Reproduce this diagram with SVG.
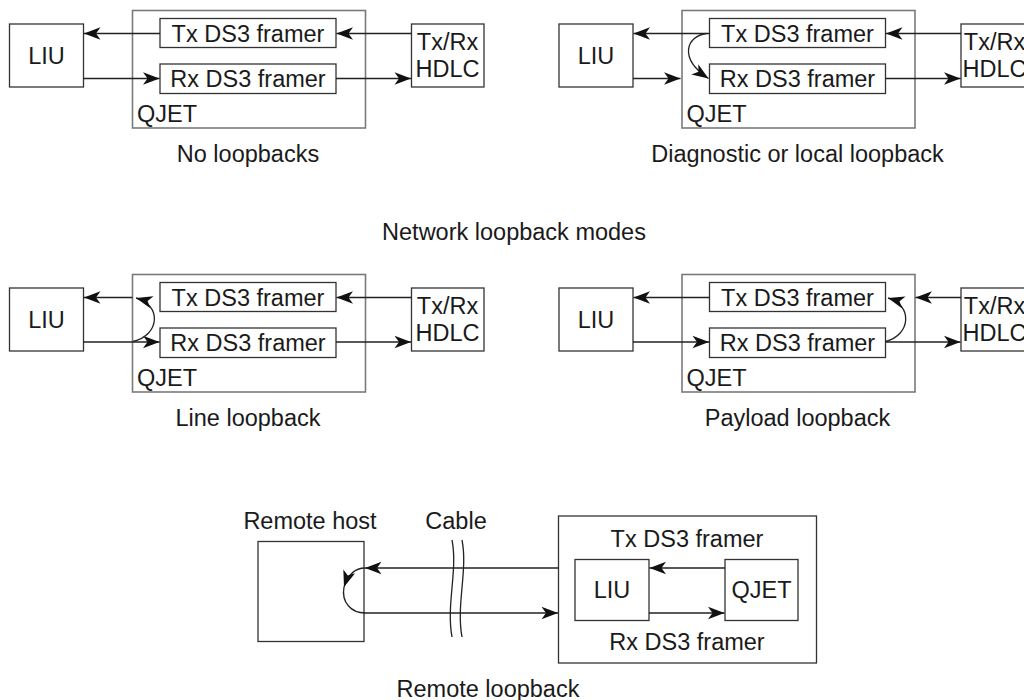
<svg xmlns="http://www.w3.org/2000/svg" width="1024" height="700" viewBox="0 0 1024 700">
<style>
.box{fill:#fff;stroke:#333;stroke-width:1.3}
.qjet{fill:none;stroke:#7a7a7a;stroke-width:1.6}
.t{font-family:"Liberation Sans",Arial,sans-serif;font-size:23.5px;fill:#1a1a1a}
.c{text-anchor:middle}
.ln{fill:none;stroke:#222;stroke-width:1.3}
.a{marker-end:url(#ah)}
</style>
<defs>
<marker id="ah" viewBox="-18 -8 19 16" refX="0" refY="0" markerWidth="19" markerHeight="16" markerUnits="userSpaceOnUse" orient="auto"><path d="M0,0 L-16.5,-6.2 L-12,0 L-16.5,6.2 Z" fill="#111"/></marker>
</defs>
<rect width="1024" height="700" fill="#fff"/>

<!-- Panel 1: No loopbacks -->
<g id="p1" transform="translate(0,0)">
<g id="p1-qjet"><rect class="qjet" x="132.5" y="10.5" width="233" height="117.5"/><text class="t" x="137" y="121.5">QJET</text></g>
<g id="p1-liu"><rect class="box" x="9.5" y="24" width="74" height="63"/><text class="t c" x="46.5" y="63.5">LIU</text></g>
<g id="p1-tx"><rect class="box" x="160" y="18.5" width="176" height="29"/><text class="t c" x="248" y="41.5">Tx DS3 framer</text></g>
<g id="p1-rx"><rect class="box" x="160" y="64" width="176" height="29.5"/><text class="t c" x="248" y="87">Rx DS3 framer</text></g>
<g id="p1-hdlc"><rect class="box" x="411.5" y="24" width="72.5" height="63"/><text class="t c" x="447.5" y="50">Tx/Rx</text><text class="t c" x="447.5" y="77">HDLC</text></g>
<text class="t c" x="248" y="162">No loopbacks</text>
</g>

<!-- Panel 2: Diagnostic or local loopback -->
<g id="p2" transform="translate(549.5,0)">
<g id="p2-qjet"><rect class="qjet" x="132.5" y="10.5" width="233" height="117.5"/><text class="t" x="137" y="121.5">QJET</text></g>
<g id="p2-liu"><rect class="box" x="9.5" y="24" width="74" height="63"/><text class="t c" x="46.5" y="63.5">LIU</text></g>
<g id="p2-tx"><rect class="box" x="160" y="18.5" width="176" height="29"/><text class="t c" x="248" y="41.5">Tx DS3 framer</text></g>
<g id="p2-rx"><rect class="box" x="160" y="64" width="176" height="29.5"/><text class="t c" x="248" y="87">Rx DS3 framer</text></g>
<g id="p2-hdlc"><rect class="box" x="411.5" y="24" width="72.5" height="63"/><text class="t c" x="445" y="50">Tx/Rx</text><text class="t c" x="445" y="77">HDLC</text></g>
<text class="t c" x="248" y="162">Diagnostic or local loopback</text>
</g>

<text class="t c" x="514" y="240">Network loopback modes</text>

<!-- Panel 3: Line loopback -->
<g id="p3" transform="translate(0,264)">
<g id="p3-qjet"><rect class="qjet" x="132.5" y="10.5" width="233" height="117.5"/><text class="t" x="137" y="121.5">QJET</text></g>
<g id="p3-liu"><rect class="box" x="9.5" y="24" width="74" height="63"/><text class="t c" x="46.5" y="63.5">LIU</text></g>
<g id="p3-tx"><rect class="box" x="160" y="18.5" width="176" height="29"/><text class="t c" x="248" y="41.5">Tx DS3 framer</text></g>
<g id="p3-rx"><rect class="box" x="160" y="64" width="176" height="29.5"/><text class="t c" x="248" y="87">Rx DS3 framer</text></g>
<g id="p3-hdlc"><rect class="box" x="411.5" y="24" width="72.5" height="63"/><text class="t c" x="447.5" y="50">Tx/Rx</text><text class="t c" x="447.5" y="77">HDLC</text></g>
<text class="t c" x="248" y="162">Line loopback</text>
</g>

<!-- Panel 4: Payload loopback -->
<g id="p4" transform="translate(549.5,264)">
<g id="p4-qjet"><rect class="qjet" x="132.5" y="10.5" width="233" height="117.5"/><text class="t" x="137" y="121.5">QJET</text></g>
<g id="p4-liu"><rect class="box" x="9.5" y="24" width="74" height="63"/><text class="t c" x="46.5" y="63.5">LIU</text></g>
<g id="p4-tx"><rect class="box" x="160" y="18.5" width="176" height="29"/><text class="t c" x="248" y="41.5">Tx DS3 framer</text></g>
<g id="p4-rx"><rect class="box" x="160" y="64" width="176" height="29.5"/><text class="t c" x="248" y="87">Rx DS3 framer</text></g>
<g id="p4-hdlc"><rect class="box" x="411.5" y="24" width="72.5" height="63"/><text class="t c" x="445" y="50">Tx/Rx</text><text class="t c" x="445" y="77">HDLC</text></g>
<text class="t c" x="248" y="162">Payload loopback</text>
</g>

<!-- Remote loopback -->
<g id="remote-host"><rect class="box" x="258" y="541.5" width="106" height="100"/><text class="t c" x="310" y="529">Remote host</text></g>
<g id="cable"><text class="t c" x="456" y="529">Cable</text>
<path class="ln" d="M452,540 C458,570 446,605 452,637"/><path class="ln" d="M462,540 C468,570 456,605 462,637"/></g>
<g id="remote-unit"><rect class="box" x="558.5" y="516" width="258" height="147"/><text class="t c" x="687" y="547">Tx DS3 framer</text><text class="t c" x="687" y="650">Rx DS3 framer</text></g>
<g id="r-liu"><rect class="box" x="575" y="559.5" width="74" height="61"/><text class="t c" x="612" y="598">LIU</text></g>
<g id="r-qjet"><rect class="box" x="725" y="559.5" width="73" height="61"/><text class="t c" x="761.5" y="598">QJET</text></g>
<text class="t c" x="488" y="697">Remote loopback</text>

<g id="connectors">
<g transform="translate(0,0)">
<path class="ln a" d="M160,33.5 L84,33.5"/>
<path class="ln a" d="M411.5,33.5 L336.5,33.5"/>
<path class="ln a" d="M83.5,78.5 L159.5,78.5"/>
<path class="ln a" d="M336,78.5 L411,78.5"/>
</g>
<g transform="translate(549.5,0)">
<path class="ln a" d="M160,33.5 L84,33.5"/>
<path class="ln a" d="M411.5,33.5 L336.5,33.5"/>
<path class="ln a" d="M83.5,78.5 L131,78.5"/>
<path class="ln a" d="M336,78.5 L411,78.5"/>
<path class="ln a" d="M157,33.5 C137,36 128.5,58 159,78.5"/>
</g>
<g transform="translate(0,264)">
<path class="ln a" d="M132.5,33.5 L84,33.5"/>
<path class="ln a" d="M411.5,33.5 L336.5,33.5"/>
<path class="ln a" d="M83.5,78 L159.5,78"/>
<path class="ln a" d="M336,78 L411,78"/>
<path class="ln a" d="M133,77.5 C160,71 162,41 136,34"/>
</g>
<g transform="translate(549.5,264)">
<path class="ln a" d="M160,33.5 L84,33.5"/>
<path class="ln a" d="M411.5,33.5 L366,33.5"/>
<path class="ln a" d="M83.5,78 L159.5,78"/>
<path class="ln a" d="M336,78 L411,78"/>
<path class="ln a" d="M336,77.5 C361.5,71 363.5,41 338.5,34"/>
</g>
<path class="ln a" d="M558.5,568 L365,568"/>
<path class="ln a" d="M364,613 L558,613"/>
<path class="ln a" d="M725,568 L649.5,568"/>
<path class="ln a" d="M649,613 L724.5,613"/>
<path class="ln a" d="M365,568 C355,568 348,575 344,587"/>
<path class="ln" d="M344,587 C341,603 352,613 365,613"/>
</g>
</svg>
